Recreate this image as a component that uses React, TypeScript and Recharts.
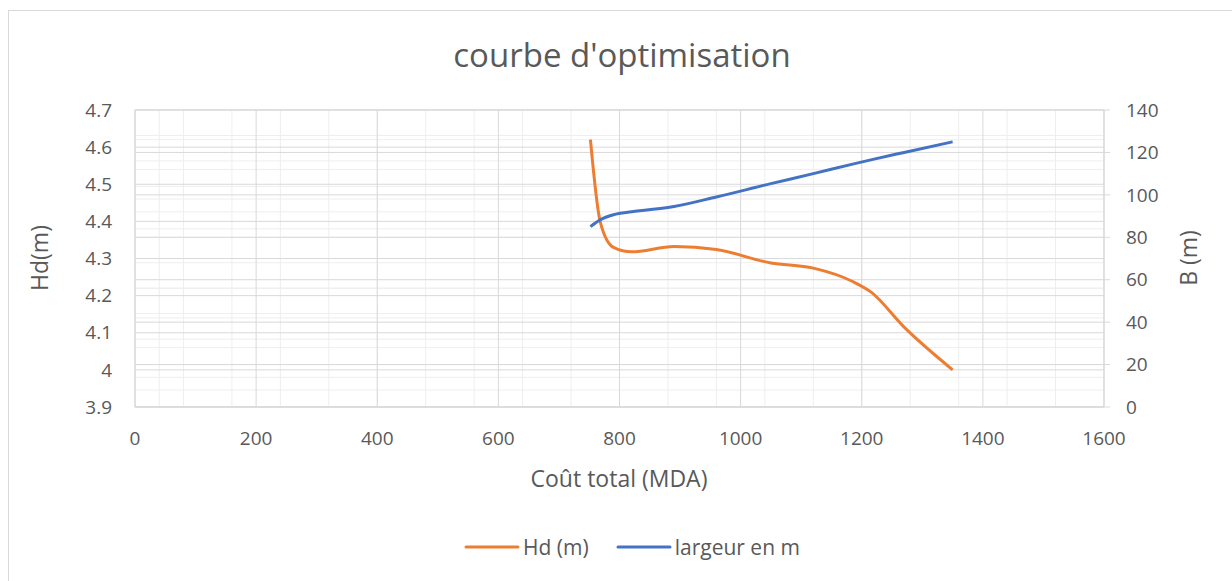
import React from "react";
import { LineChart, Line, XAxis, YAxis, CartesianGrid, Legend } from "recharts";

// Coût total (MDA) for each computed point
const costs = [752, 768, 790, 820, 890, 960, 1050, 1120, 1185, 1215, 1270, 1350];
// Hd (m), left axis
const hdValues = [4.62, 4.4, 4.33, 4.318, 4.332, 4.324, 4.288, 4.274, 4.238, 4.21, 4.115, 4.0];
// largeur en m, right axis
const widthValues = [85, 88.2, 90.6, 92, 94.5, 99, 105.3, 110, 114.5, 116.5, 120, 125];

const seriesNames = ["Hd (m)", "largeur en m"];
const xTicks = [0, 200, 400, 600, 800, 1000, 1200, 1400, 1600];
const hdTicks = [3.9, 4, 4.1, 4.2, 4.3, 4.4, 4.5, 4.6, 4.7];
const bTicks = [0, 20, 40, 60, 80, 100, 120, 140];

const data = costs.map((c, i) => ({ cost: c, hd: hdValues[i], b: widthValues[i] }));

// excel-like minor gridlines
const steps = (start: number, end: number, step: number) => {
  const out: number[] = [];
  for (let v = start; v <= end + step / 2; v += step) out.push(Math.round(v * 1000) / 1000);
  return out;
};
const xMinor = steps(0, 1600, 40);
const hdMinor = steps(3.9, 4.7, 0.02);
const bMinor = steps(0, 140, 4);

const FONT = "'Open Sans', sans-serif";
const TEXT = "#595959";
const MAJOR = "#d9d9d9";
const MINOR = "#eeeeee";
const TICK_FONT = 19;

const renderLegend = ({ payload }: any) => (
  <div
    style={{
      display: "flex",
      justifyContent: "center",
      gap: 27,
      fontFamily: FONT,
      fontSize: 21,
      color: TEXT,
    }}
  >
    {(payload || []).map((p: any) => (
      <span key={p.value} style={{ display: "flex", alignItems: "center" }}>
        <svg width={56} height={6}>
          <line x1={2} y1={3} x2={54} y2={3} stroke={p.color} strokeWidth={3} strokeLinecap="round" />
        </svg>
        <span style={{ marginLeft: 3 }}>{p.value}</span>
      </span>
    ))}
  </div>
);

export default function App() {
  return (
    <div
      style={{
        position: "absolute",
        left: 0,
        top: 0,
        width: 1232,
        height: 581,
        overflow: "hidden",
        background: "#fff",
        fontFamily: FONT,
      }}
    >
      <div
        style={{
          position: "absolute",
          left: 8,
          top: 10,
          width: 1300,
          height: 700,
          border: `1px solid ${MAJOR}`,
        }}
      />
      <div
        style={{
          position: "absolute",
          left: 16,
          top: 32,
          width: 1212,
          textAlign: "center",
          fontSize: 33,
          lineHeight: "45px",
          color: TEXT,
        }}
      >
        courbe d'optimisation
      </div>
      <div
        style={{
          position: "absolute",
          left: 39,
          top: 258,
          transform: "translate(-50%, -50%) rotate(-90deg)",
          fontSize: 23,
          color: TEXT,
          whiteSpace: "nowrap",
        }}
      >
        Hd(m)
      </div>
      <div
        style={{
          position: "absolute",
          left: 1188,
          top: 258,
          transform: "translate(-50%, -50%) rotate(-90deg)",
          fontSize: 23,
          color: TEXT,
          whiteSpace: "nowrap",
        }}
      >
        B (m)
      </div>
      <div
        style={{
          position: "absolute",
          left: 16,
          top: 462,
          width: 1206,
          textAlign: "center",
          fontSize: 23,
          lineHeight: "32px",
          color: TEXT,
        }}
      >
        Coût total (MDA)
      </div>
      <div style={{ position: "absolute", left: 0, top: 0 }}>
        <LineChart
          width={1232}
          height={581}
          data={data}
          margin={{ top: 110, right: 68, bottom: 114, left: 75 }}
        >
          <CartesianGrid xAxisId="x" yAxisId="left" horizontal={false} stroke={MINOR} verticalValues={xMinor} />
          <CartesianGrid xAxisId="x" yAxisId="left" vertical={false} stroke={MINOR} horizontalValues={hdMinor} />
          <CartesianGrid xAxisId="x" yAxisId="right" vertical={false} stroke={MINOR} horizontalValues={bMinor} />
          <CartesianGrid xAxisId="x" yAxisId="left" horizontal={false} stroke={MAJOR} verticalValues={xTicks} />
          <CartesianGrid xAxisId="x" yAxisId="left" vertical={false} stroke={MAJOR} horizontalValues={hdTicks} />
          <CartesianGrid xAxisId="x" yAxisId="right" vertical={false} stroke={MAJOR} horizontalValues={bTicks} />
          <XAxis
            xAxisId="x"
            type="number"
            dataKey="cost"
            domain={[0, 1600]}
            ticks={xTicks}
            allowDataOverflow
            height={60}
            axisLine={{ stroke: MAJOR }}
            tickLine={false}
            tickSize={0}
            tickMargin={25}
            tick={{ fill: TEXT, fontSize: TICK_FONT, fontFamily: FONT }}
          />
          <YAxis
            yAxisId="left"
            type="number"
            domain={[3.9, 4.7]}
            ticks={hdTicks}
            allowDataOverflow
            width={60}
            axisLine={{ stroke: MAJOR }}
            tickLine={false}
            tickSize={0}
            tickMargin={23}
            tick={{ fill: TEXT, fontSize: TICK_FONT, fontFamily: FONT }}
          />
          <YAxis
            yAxisId="right"
            orientation="right"
            type="number"
            domain={[0, 140]}
            ticks={bTicks}
            allowDataOverflow
            width={60}
            axisLine={{ stroke: MAJOR }}
            tickLine={{ stroke: MAJOR }}
            tickSize={6}
            tickMargin={16}
            tick={{ fill: TEXT, fontSize: TICK_FONT, fontFamily: FONT, textAnchor: "start" }}
          />
          <Legend
            verticalAlign="middle"
            layout="horizontal"
            content={renderLegend}
            wrapperStyle={{ top: 533, left: 16, width: 1232 }}
          />
          <Line
            xAxisId="x"
            yAxisId="left"
            type="monotone"
            dataKey="hd"
            name={seriesNames[0]}
            stroke="#ED7D31"
            strokeWidth={3}
            dot={false}
            isAnimationActive={false}
          />
          <Line
            xAxisId="x"
            yAxisId="right"
            type="monotone"
            dataKey="b"
            name={seriesNames[1]}
            stroke="#4472C4"
            strokeWidth={3}
            dot={false}
            isAnimationActive={false}
          />
        </LineChart>
      </div>
    </div>
  );
}
